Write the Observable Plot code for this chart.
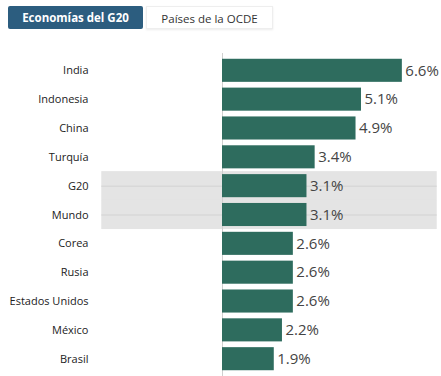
<!DOCTYPE html>
<html>
<head>
<meta charset="utf-8">
<script src="https://cdn.jsdelivr.net/npm/d3@7"></script>
<script src="https://cdn.jsdelivr.net/npm/@observablehq/plot@0.6"></script>
<style>
  html, body { margin: 0; padding: 0; background: #fff; width: 441px; height: 376px; overflow: hidden; font-family: "Open Sans", sans-serif; }
  .tabs { height: 40px; position: relative; }
  .tab { position: absolute; top: 6px; height: 23px; line-height: 23px; font-size: 11.5px; text-align: center; box-sizing: border-box; }
  .tab.active { left: 8px; width: 135px; background: #2c5d7f; color: #fff; font-weight: 700; border-radius: 2px; }
  .tab.idle { left: 146px; width: 127px; background: #fff; color: #333; border: 1px solid #eee; box-shadow: 0 1px 2px rgba(0,0,0,0.08); }
  #chart svg { display: block; }
</style>
</head>
<body>
<div class="tabs">
  <div class="tab active">Economías del G20</div>
  <div class="tab idle">Países de la OCDE</div>
</div>
<div id="chart"></div>
<script>
const categories = ["India", "Indonesia", "China", "Turquía", "G20", "Mundo", "Corea", "Rusia", "Estados Unidos", "México", "Brasil"];
const values = [6.6, 5.1, 4.9, 3.4, 3.1, 3.1, 2.6, 2.6, 2.6, 2.2, 1.9];
const highlighted = ["G20", "Mundo"];

const data = categories.map((c, i) => ({category: c, value: values[i]}));

const chart = Plot.plot({
  width: 441,
  height: 336,
  marginTop: 13,
  marginBottom: 0,
  marginLeft: 222,
  marginRight: 1,
  style: {fontFamily: "'Open Sans', sans-serif", background: "transparent"},
  x: {domain: [0, 8], axis: null},
  y: {domain: categories, padding: 0.2, round: false, label: null},
  marks: [
    Plot.barX(highlighted, {y: d => d, x1: -4.43, x2: 7.88, fill: "#e4e4e4", insetTop: -3, insetBottom: -3, clip: false}),
    Plot.ruleY(highlighted, {y: d => d, x1: -4.43, x2: 7.88, stroke: "#d2d2d2", strokeWidth: 1}),
    Plot.ruleX([0], {stroke: "#d0d0d0", strokeWidth: 1}),
    Plot.barX(data, {y: "category", x: "value", fill: "#2e6c5e"}),
    Plot.text(data, {y: "category", x: "value", text: d => d.value.toFixed(1) + "%", textAnchor: "start", dx: 3, fontSize: 15, fill: "#444"}),
    Plot.axisY({tickSize: 0, tickPadding: 134, fontSize: 11, color: "#222", label: null})
  ]
});
document.getElementById("chart").appendChild(chart);
</script>
</body>
</html>
